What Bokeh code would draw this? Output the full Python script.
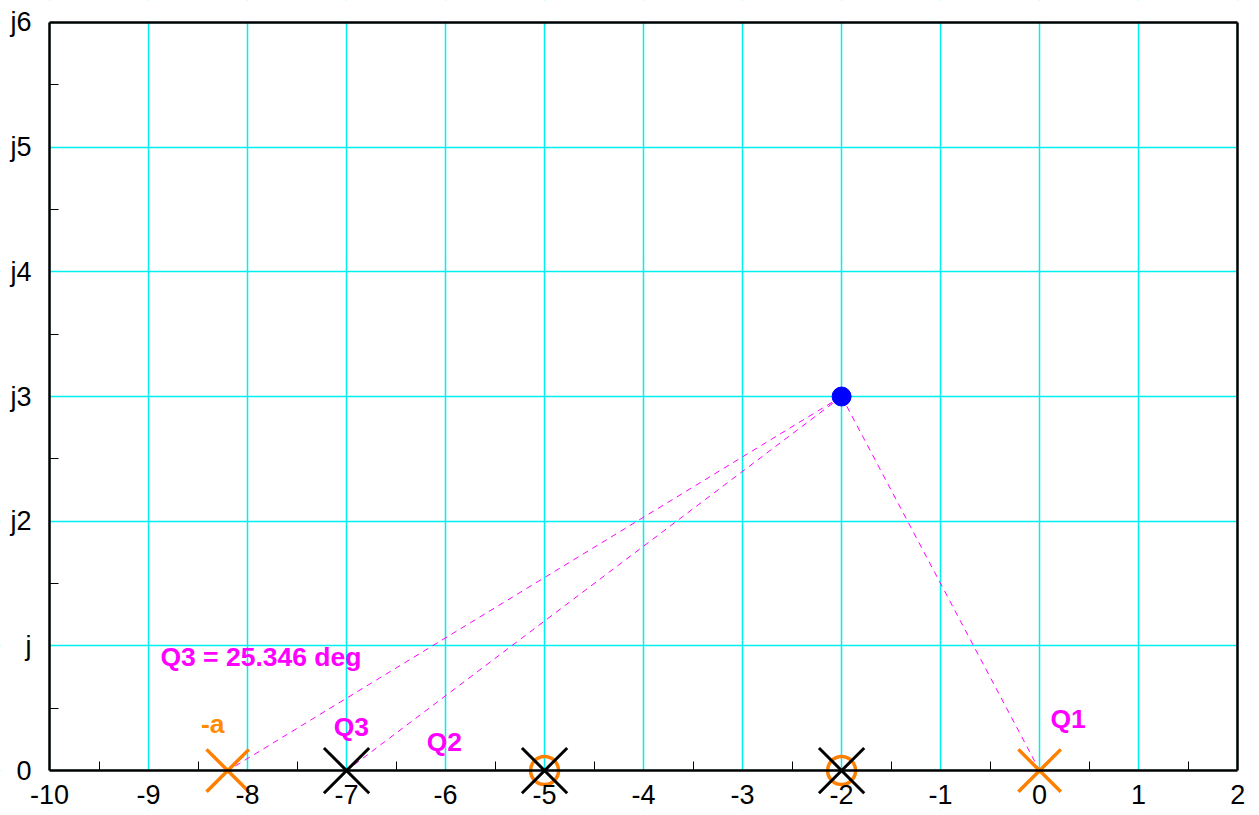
from bokeh.plotting import figure
from bokeh.models import Range1d, FixedTicker, LinearAxis, BoxAnnotation
from bokeh.core.properties import value
from bokeh.embed import file_html
from bokeh.resources import INLINE

# data
x_ticks = [-10, -9, -8, -7, -6, -5, -4, -3, -2, -1, 0, 1, 2]
x_tick_labels = ["-10", "-9", "-8", "-7", "-6", "-5", "-4", "-3", "-2", "-1", "0", "1", "2"]
y_ticks = [0, 1, 2, 3, 4, 5, 6]
y_tick_labels = ["0", "j", "j2", "j3", "j4", "j5", "j6"]

black_pole_x = [-7, -5, -2]
black_pole_y = [0, 0, 0]
orange_pole_x = [-8.2, 0]
orange_pole_y = [0, 0]
zero_x = [-5, -2]
zero_y = [0, 0]
test_x = [-2]
test_y = [3]
ray_end_x = [-8.2, -7, 0]
ray_end_y = [0, 0, 0]

magenta_labels = ["Q3 = 25.346 deg", "Q3", "Q2", "Q1"]
magenta_label_x = [-8.88, -7.13, -6.19, 0.11]
magenta_label_y = [0.91, 0.35, 0.23, 0.41]
orange_labels = ["-a"]
orange_label_x = [-8.47]
orange_label_y = [0.37]

X_MIN, X_MAX, Y_MIN, Y_MAX = -10, 2, 0, 6

p = figure(width=1251, height=813, output_backend="svg", toolbar_location=None,
           x_range=Range1d(-10.495, 2.14), y_range=Range1d(-0.32, 6.176),
           min_border_left=0, min_border_right=0, min_border_top=0, min_border_bottom=3)
p.background_fill_color = "white"
p.border_fill_color = "white"
p.outline_line_color = None

minor_x = [v + 0.5 for v in x_ticks[:-1]]
minor_y = [v + 0.5 for v in y_ticks[:-1]]
p.xaxis.ticker = FixedTicker(ticks=x_ticks, minor_ticks=minor_x)
p.yaxis.ticker = FixedTicker(ticks=y_ticks, minor_ticks=minor_y)
p.xaxis.major_label_overrides = {t: l for t, l in zip(x_ticks, x_tick_labels)}
p.yaxis.major_label_overrides = {t: l for t, l in zip(y_ticks, y_tick_labels)}
p.xaxis.fixed_location = Y_MIN
p.xaxis.bounds = (X_MIN, X_MAX)
p.yaxis.fixed_location = X_MIN
p.yaxis.bounds = (Y_MIN, Y_MAX)
for ax in (p.xaxis, p.yaxis):
    ax.axis_line_color = "black"
    ax.axis_line_width = 2.5
    ax.major_tick_line_color = None
    ax.minor_tick_line_color = "black"
    ax.minor_tick_line_width = 1
    ax.minor_tick_in = 9
    ax.minor_tick_out = 0
    ax.major_label_text_font = "Liberation Sans"
    ax.major_label_text_font_size = "27px"
    ax.major_label_text_color = "black"
p.xaxis.major_label_standoff = 8
p.yaxis.major_label_standoff = 12

# frame border on top and right
top_axis = LinearAxis(ticker=FixedTicker(ticks=[]), axis_line_width=2.5, axis_line_color="black",
                      major_tick_line_color=None, minor_tick_line_color=None,
                      major_label_text_font_size="0px", bounds=(X_MIN, X_MAX),
                      fixed_location=Y_MAX)
right_axis = LinearAxis(ticker=FixedTicker(ticks=[]), axis_line_width=2.5, axis_line_color="black",
                        major_tick_line_color=None, minor_tick_line_color=None,
                        major_label_text_font_size="0px", bounds=(Y_MIN, Y_MAX),
                        fixed_location=X_MAX)
p.add_layout(top_axis, "above")
p.add_layout(right_axis, "right")

p.xgrid.ticker = FixedTicker(ticks=x_ticks)
p.ygrid.ticker = FixedTicker(ticks=y_ticks)
p.grid.grid_line_color = "#00F0F0"
p.grid.grid_line_width = 1.5
p.grid.grid_line_alpha = 1

# hide grid outside the real plot area
for box in (BoxAnnotation(top=Y_MIN), BoxAnnotation(bottom=Y_MAX),
            BoxAnnotation(right=X_MIN), BoxAnnotation(left=X_MAX)):
    box.fill_color = "white"
    box.fill_alpha = 1
    box.line_color = None
    box.level = "underlay"
    p.add_layout(box)

# dashed rays
for ex, ey in zip(ray_end_x, ray_end_y):
    p.line([test_x[0], ex], [test_y[0], ey], line_color="#FF00FF", line_width=1, line_dash="6 5")

p.scatter(zero_x, zero_y, marker="circle", size=28, fill_color=None,
          line_color="#FF8000", line_width=3.5)
p.scatter(black_pole_x, black_pole_y, marker="x", size=64, line_color="black", line_width=3)
p.scatter(orange_pole_x, orange_pole_y, marker="x", size=60, line_color="#FF8000", line_width=3.5)
p.scatter(test_x, test_y, marker="circle", size=19, fill_color="#0000FF", line_color="#0000FF")

p.text(magenta_label_x, magenta_label_y, text=magenta_labels, text_color="#FF00FF",
       text_font=value("Liberation Sans"), text_font_style="bold", text_font_size="26.5px",
       text_baseline="middle", text_align="left")
p.text(orange_label_x, orange_label_y, text=orange_labels, text_color="#FF8C00",
       text_font=value("Liberation Sans"), text_font_style="bold", text_font_size="26.5px",
       text_baseline="middle", text_align="left")

open("out.html", "w").write(file_html(p, INLINE))
